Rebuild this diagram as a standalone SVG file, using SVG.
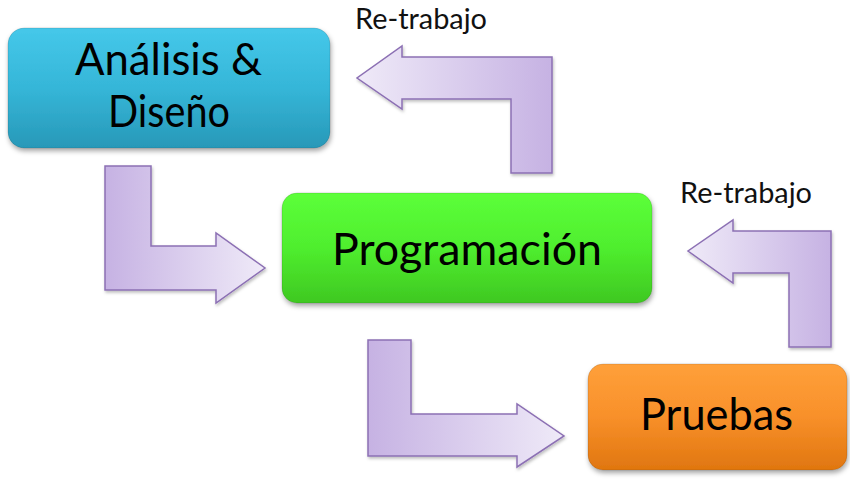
<svg xmlns="http://www.w3.org/2000/svg" width="850" height="483" viewBox="0 0 850 483">
<style>
.lbl{font-family:Lato,"Open Sans","Liberation Sans",sans-serif;fill:#000;text-anchor:middle}
.big{font-size:44px}
.rt{font-family:Lato,"Open Sans","Liberation Sans",sans-serif;font-size:28.5px;fill:#111}
.arr{stroke:#8c70b4;stroke-width:1.5;stroke-linejoin:miter}
.box{stroke:#000000;stroke-opacity:0.12;stroke-width:1}
</style>
<defs>
<linearGradient id="gBlue" x1="0" y1="0" x2="0" y2="1">
<stop offset="0" stop-color="#45c8ea"/><stop offset="0.5" stop-color="#35b6d8"/><stop offset="1" stop-color="#2898b8"/>
</linearGradient>
<linearGradient id="gGreen" x1="0" y1="0" x2="0" y2="1">
<stop offset="0" stop-color="#5cff3a"/><stop offset="0.5" stop-color="#4fee2e"/><stop offset="1" stop-color="#3fc822"/>
</linearGradient>
<linearGradient id="gOrange" x1="0" y1="0" x2="0" y2="1">
<stop offset="0" stop-color="#ffa03a"/><stop offset="0.5" stop-color="#f8902a"/><stop offset="1" stop-color="#e0760f"/>
</linearGradient>
<linearGradient id="gR" x1="0" y1="0" x2="1" y2="0">
<stop offset="0" stop-color="#c6b2e3"/><stop offset="1" stop-color="#efeaf8"/>
</linearGradient>
<linearGradient id="gL" x1="1" y1="0" x2="0" y2="0">
<stop offset="0" stop-color="#c6b2e3"/><stop offset="1" stop-color="#efeaf8"/>
</linearGradient>
<filter id="sh" x="-10%" y="-10%" width="120%" height="130%">
<feDropShadow dx="1" dy="3" stdDeviation="2.5" flood-color="#000" flood-opacity="0.35"/>
</filter>
<filter id="ash" x="-10%" y="-10%" width="120%" height="130%">
<feDropShadow dx="1" dy="2" stdDeviation="1.5" flood-color="#000" flood-opacity="0.25"/>
</filter>
</defs>
<rect width="850" height="483" fill="#fff"/>

<g id="connectors">
<polygon class="arr" fill="url(#gR)" filter="url(#ash)" points="105,166 151,166 151,246 216,246 216,233 265,268 216,303 216,290 105,290"/>
<polygon class="arr" fill="url(#gL)" filter="url(#ash)" points="552,57 552,173 511,173 511,99 402,99 402,109 357,78 402,46 402,57"/>
<polygon class="arr" fill="url(#gL)" filter="url(#ash)" points="831,231 831,347 789,347 789,273 733,273 733,283 688,251 733,220 733,231"/>
<polygon class="arr" fill="url(#gR)" filter="url(#ash)" points="368,340 411,340 411,414 517,414 517,404 564,436 517,467 517,456 368,456"/>
<text class="rt" x="355" y="29" textLength="132" lengthAdjust="spacingAndGlyphs">Re-trabajo</text>
<text class="rt" x="680" y="203" textLength="132" lengthAdjust="spacingAndGlyphs">Re-trabajo</text>
</g>

<g id="analisis">
<rect class="box" x="8" y="28" width="322" height="120" rx="16" fill="url(#gBlue)" filter="url(#sh)"/>
<text class="lbl big" x="168.5" y="75" textLength="187" lengthAdjust="spacingAndGlyphs">Análisis &amp;</text>
<text class="lbl big" x="169" y="127" textLength="122" lengthAdjust="spacingAndGlyphs">Diseño</text>
</g>

<g id="programacion">
<rect class="box" x="282" y="193" width="370" height="110" rx="15" fill="url(#gGreen)" filter="url(#sh)"/>
<text class="lbl big" x="467" y="265" textLength="270" lengthAdjust="spacingAndGlyphs">Programación</text>
</g>

<g id="pruebas">
<rect class="box" x="588" y="364" width="259" height="106" rx="15" fill="url(#gOrange)" filter="url(#sh)"/>
<text class="lbl big" x="716.5" y="430" textLength="153" lengthAdjust="spacingAndGlyphs">Pruebas</text>
</g>
</svg>
